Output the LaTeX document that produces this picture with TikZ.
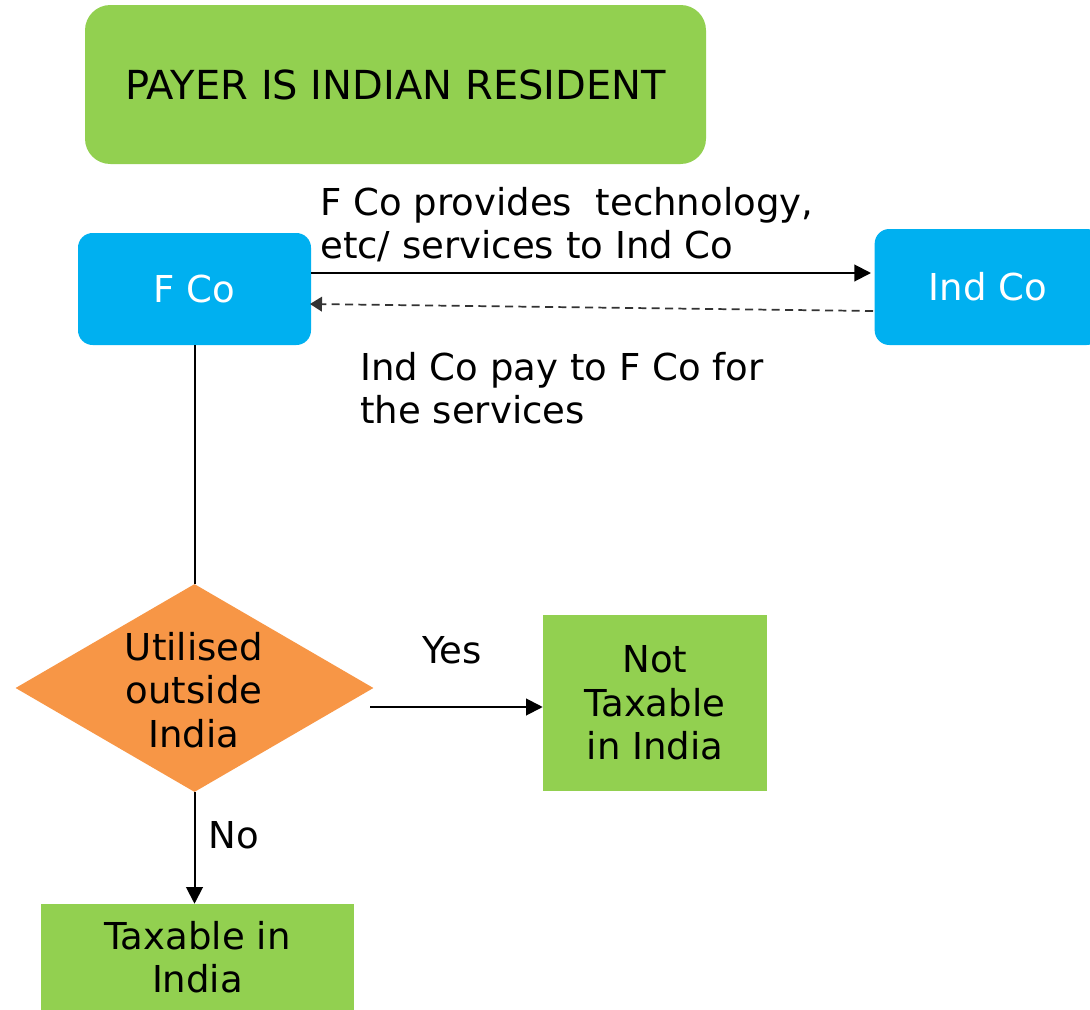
\documentclass[tikz,border=0pt]{standalone}
\usepackage{fontspec}
\setmainfont{DejaVu Sans}
\usetikzlibrary{shapes.geometric,arrows.meta}
\definecolor{leafgreen}{HTML}{92D050}
\definecolor{skyblue}{HTML}{00B0F0}
\definecolor{flowOrange}{HTML}{F79646}
\begin{document}
\begin{tikzpicture}[x=0.75pt,y=-0.75pt,
  every node/.style={font=\fontsize{27.8pt}{32.5pt}\selectfont},
  greenbox/.style={fill=leafgreen,draw=none,inner sep=0pt,align=center},
  bluebox/.style={fill=skyblue,draw=none,inner sep=0pt,align=center,text=white,rounded corners=11pt},
  decision/.style={diamond,fill=flowOrange,draw=none,inner sep=0pt,minimum width=268.5pt,minimum height=156pt},
  flow/.style={line width=1.5pt,-{Triangle[length=12.5pt,width=12.5pt]}},
  payback/.style={line width=1.3pt,dashed,dash pattern=on 6pt off 4pt,draw=black!80,-{Triangle[length=9pt,width=11pt]}},
  note/.style={align=left,anchor=north west,inner sep=0pt}
]
\useasboundingbox (0,0) rectangle (1090,1010);

% heading
\node[greenbox,rounded corners=19pt,minimum width=465.75pt,minimum height=119.25pt,
      font=\fontsize{30pt}{36pt}\selectfont] (payer) at (395.5,84.5) {PAYER IS INDIAN RESIDENT};

% parties
\node[bluebox,minimum width=174.75pt,minimum height=84pt] (fco) at (194.5,289) {F Co};
\node[bluebox,minimum width=170pt,minimum height=87pt] (indco) at (988,287) {Ind Co};

% decision and outcomes
\node[decision] (util) at (194.5,688) {};
\node[align=center,inner sep=0pt] (utiltext) at (194,690) {Utilised\\outside\\India};
\node[greenbox,minimum width=168pt,minimum height=132pt] (nottax) at (655,703) {Not\\Taxable\\in India};
\node[greenbox,minimum width=234.75pt,minimum height=79.5pt] (tax) at (197.5,957) {Taxable in\\India};

% connectors
\coordinate (fcoR) at (311,273);
\coordinate (indL) at (871,273);
\draw[flow] (fcoR) -- (indL);
\coordinate (indDash) at (873,311);
\coordinate (fcoDash) at (310,304);
\draw[payback] (indDash) -- (fcoDash);
\draw[line width=1.5pt] (fco.south) -- (util.north);
\coordinate (utilR) at (370,707);
\draw[flow] (utilR) -- (utilR -| nottax.west);
\draw[flow] (util.south) -- (util.south |- tax.north);

% labels
\node[note] (provides) at (320,187) {F Co provides\ \ technology,\\etc/ services to Ind Co};
\node[note] (pays) at (360,352) {Ind Co pay to F Co for\\the services};
\node[inner sep=0pt] (yes) at (452,650) {Yes};
\node[inner sep=0pt] (no) at (234,835) {No};
\end{tikzpicture}
\end{document}
